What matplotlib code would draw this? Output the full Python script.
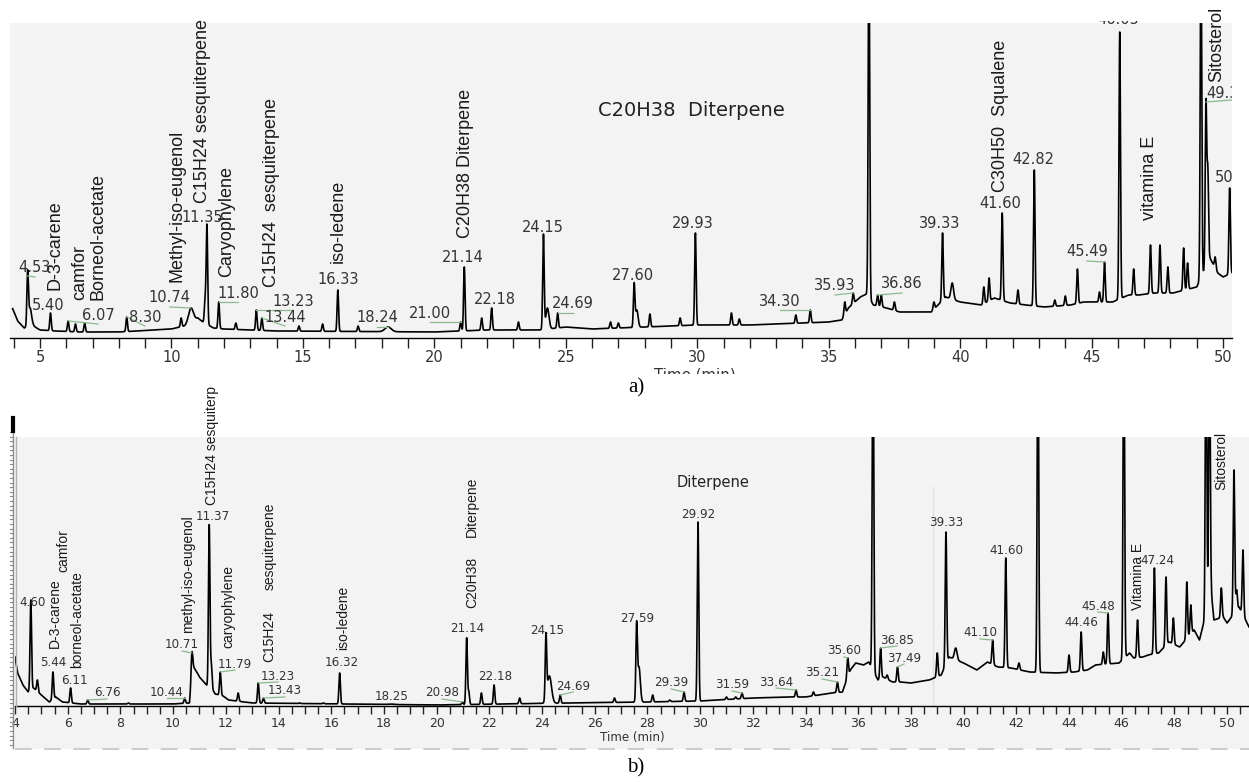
import matplotlib
matplotlib.use("Agg")
import matplotlib.pyplot as plt
import numpy as np
from matplotlib.patches import Rectangle
from matplotlib.lines import Line2D
from matplotlib.ticker import MultipleLocator

W, H = 1249, 782
GRAY = '#f3f3f3'
LEAD = '#8db88d'

# ---- a) chromatogram : retention time (min) / peak top (counts, arbitrary) ----
a_base_t = [3.86, 3.95, 4.15, 4.40, 4.75, 5.00, 5.60, 6.50, 8.00, 10.00,
            10.50, 11.00, 11.20, 11.60, 12.00, 14.00, 20.00, 22.00, 24.00, 25.00,
            26.00, 28.00, 30.00, 32.00, 34.00, 35.00, 35.50, 35.75, 36.20, 36.45,
            36.70, 37.20, 37.70, 38.90, 39.45, 40.00, 40.80, 41.30, 41.90, 42.50,
            43.20, 44.20, 44.70, 45.80, 46.40, 46.80, 47.40, 48.10, 49.00, 49.50,
            49.80, 50.00, 50.34]
a_base_y = [30, 30, 17, 10, 12, 8, 7, 6, 6, 9,
            12, 20, 16, 10, 9, 7, 6, 8, 8, 11,
            9, 11, 13, 13, 15, 16, 18, 30, 41, 44,
            33, 30, 26, 26, 41, 36, 33, 40, 35, 33,
            31, 33, 36, 36, 43, 43, 45, 45, 51, 80,
            65, 61, 65]
a_peak_t = [4.53, 4.62, 5.40, 6.07, 6.35, 6.70, 8.30, 10.37, 10.74, 11.28,
            11.35, 11.80, 12.45, 13.23, 13.44, 14.85, 15.75, 16.33, 17.10, 18.24,
            21.00, 21.14, 21.80, 22.18, 23.20, 24.15, 24.30, 24.69, 26.70, 27.00,
            27.60, 27.70, 28.20, 29.35, 29.93, 31.30, 31.60, 33.75, 34.30, 35.61,
            35.93, 36.53, 36.86, 37.00, 37.50, 39.00, 39.33, 39.70, 40.90, 41.10,
            41.60, 42.20, 42.82, 43.60, 44.00, 44.46, 45.30, 45.49, 46.07, 46.60,
            47.24, 47.60, 47.90, 48.50, 48.65, 49.16, 49.35, 49.42, 49.70, 50.25]
a_peak_top = [62, 30, 25, 17, 14, 15, 21, 20, 30, 38,
              113, 36, 15, 28, 20, 12, 14, 48, 12, 11,
              16, 71, 20, 30, 16, 103, 30, 25, 16, 15,
              53, 28, 24, 20, 105, 25, 19, 23, 28, 36,
              45, 400, 43, 43, 36, 36, 105, 55, 51, 60,
              125, 48, 168, 38, 42, 69, 46, 76, 306, 69,
              93, 93, 71, 90, 75, 400, 235, 166, 81, 150]
a_broad = {4.62: 0.06, 10.74: 0.09, 18.24: 0.12, 24.30: 0.06, 27.70: 0.05, 39.70: 0.05}

# ---- b) chromatogram ----
b_base_t = [4.00, 4.10, 4.30, 4.50, 4.70, 5.00, 5.30, 5.55, 5.80, 6.50,
            10.00, 10.62, 10.75, 10.90, 11.00, 11.20, 11.32, 11.50, 11.60, 11.90,
            12.10, 13.00, 20.00, 25.00, 28.00, 30.00, 32.00, 33.50, 34.00, 35.00,
            35.40, 35.70, 35.90, 36.20, 36.40, 36.75, 36.95, 37.30, 37.60, 38.00,
            38.70, 39.15, 39.45, 40.00, 40.50, 40.90, 41.30, 41.80, 42.50, 43.50,
            44.20, 44.70, 45.00, 45.90, 46.30, 46.45, 46.80, 47.00, 47.40, 47.80,
            48.20, 48.75, 48.95, 49.40, 49.50, 49.85, 50.00, 50.45, 50.70, 50.83]
b_base_y = [49, 33, 21, 14, 18, 11, 4, 9, 4, 2,
            2, 3, 40, 34, 29, 23, 19, 16, 12, 10,
            6, 3, 1, 3, 4, 5, 8, 9, 9, 13,
            14, 36, 43, 41, 44, 26, 29, 24, 24, 23,
            26, 31, 49, 43, 36, 44, 39, 38, 34, 33,
            34, 36, 41, 43, 53, 48, 49, 51, 53, 64,
            59, 76, 66, 113, 86, 89, 83, 99, 86, 79]
b_peak_t = [4.60, 4.85, 5.44, 6.11, 6.76, 8.30, 10.44, 10.71, 11.37,
            11.45, 11.79, 12.47, 13.23, 13.43, 14.80, 15.70, 16.32, 18.25, 20.98,
            21.14, 21.22, 21.70, 22.18, 23.15, 24.15, 24.28, 24.69, 26.75, 27.59,
            27.68, 28.20, 28.85, 29.39, 29.92, 31.00, 31.35, 31.59, 33.64, 34.30,
            35.21, 35.60, 36.56, 36.85, 37.10, 37.49, 39.00, 39.33, 39.70, 41.10,
            41.60, 42.10, 42.82, 44.00, 44.46, 45.30, 45.48, 46.08, 46.60, 47.24,
            47.68, 47.96, 48.47, 48.62, 49.20, 49.33, 49.78, 50.26, 50.36, 50.60]
b_peak_top = [106, 26, 34, 18, 6, 3, 8, 53, 181,
              41, 34, 13, 23, 8, 3, 3, 33, 2, 4,
              68, 14, 13, 21, 8, 66, 30, 11, 8, 78,
              39, 11, 6, 14, 184, 9, 9, 13, 16, 14,
              24, 48, 400, 58, 31, 39, 53, 174, 58, 66,
              148, 43, 400, 51, 74, 54, 93, 400, 86, 138,
              129, 88, 124, 101, 400, 400, 118, 236, 116, 156]
b_broad = {18.25: 0.1, 24.28: 0.08, 27.68: 0.05, 39.70: 0.05}

# ---- annotations (text, x in min, y in counts) ----
a_num = [("4.53", 4.81, 70), ("5.40", 5.30, 33), ("6.07", 7.21, 23), ("8.30", 8.99, 21),
         ("10.74", 9.94, 40), ("11.35", 11.16, 121), ("11.80", 12.53, 45), ("13.23", 14.62, 37),
         ("13.44", 14.32, 21), ("16.33", 16.33, 58), ("18.24", 17.82, 20), ("21.00", 19.83, 25),
         ("21.14", 21.09, 80), ("22.18", 22.31, 38), ("24.15", 24.13, 111), ("24.69", 25.27, 34),
         ("27.60", 27.56, 62), ("29.93", 29.84, 114), ("34.30", 33.15, 37), ("35.93", 35.24, 52),
         ("36.86", 37.79, 54), ("39.33", 39.23, 115), ("41.60", 41.52, 134), ("42.82", 42.77, 179),
         ("45.49", 44.82, 86)]
a_names = [("D-3-carene", 5.57, 48), ("camfor", 6.52, 38), ("Borneol-acetate", 7.21, 38),
           ("Methyl-iso-eugenol", 10.21, 56), ("C15H24 sesquiterpene", 11.20, 135),
           ("Caryophylene", 12.11, 61), ("C15H24  sesquiterpene", 13.82, 51),
           ("iso-ledene", 16.33, 75), ("C20H38 Diterpene", 21.17, 100),
           ("C30H50  Squalene", 41.52, 146), ("vitamina E", 47.22, 118), ("Sitosterol", 49.77, 256)]
a_lead = ["4.53", "6.07", "8.30", "10.74", "11.80", "13.23", "13.44", "18.24", "21.00",
          "24.69", "34.30", "35.93", "36.86", "45.49"]

b_num = [("4.60", 4.65, 103), ("5.44", 5.44, 44), ("6.11", 6.24, 26), ("6.76", 7.49, 13),
         ("10.44", 9.77, 14), ("10.71", 10.34, 61), ("11.37", 11.51, 189), ("11.79", 12.35, 42),
         ("13.23", 13.98, 30), ("13.43", 14.25, 15), ("16.32", 16.41, 43), ("18.25", 18.31, 9),
         ("20.98", 20.20, 13), ("21.14", 21.15, 77), ("22.18", 22.22, 29), ("24.15", 24.19, 75),
         ("24.69", 25.18, 20), ("27.59", 27.61, 87), ("29.39", 28.90, 23), ("29.92", 29.92, 192),
         ("31.59", 31.21, 21), ("33.64", 32.88, 24), ("35.21", 34.63, 33), ("35.60", 35.46, 55),
         ("36.85", 37.47, 66), ("37.49", 37.74, 48), ("39.33", 39.33, 183), ("41.10", 40.62, 73),
         ("41.60", 41.61, 155), ("44.46", 44.46, 83), ("45.48", 45.10, 100), ("47.24", 47.34, 146)]
b_names = [("D-3-carene", 5.52, 58), ("camfor", 5.82, 134), ("borneol-acetate", 6.35, 38),
           ("methyl-iso-eugenol", 10.57, 73), ("C15H24 sesquiterp", 11.48, 201),
           ("caryophylene", 12.08, 58), ("C15H24", 13.64, 44), ("sesquiterpene", 13.68, 116),
           ("iso-ledene", 16.45, 56), ("C20H38", 21.34, 98), ("Diterpene", 21.34, 169),
           ("Vitamina E", 46.62, 96), ("Sitosterol", 49.77, 216)]
b_lead = ["6.76", "10.44", "10.71", "11.79", "13.23", "13.43", "20.98", "24.69", "29.39",
          "31.59", "33.64", "35.21", "35.60", "36.85", "37.49", "41.10", "45.48"]


def trace(t, base_t, base_y, peak_t, peak_top, broad):
    y = np.interp(t, base_t, base_y)
    for pt, top in zip(peak_t, peak_top):
        w = broad.get(pt, 0.028)
        amp = top - np.interp(pt, base_t, base_y)
        y = y + amp * np.exp(-0.5 * ((t - pt) / w) ** 2)
    return y


def px_rect(x0, y0, x1, y1):
    # pixel box (origin top-left) -> figure fraction
    return [x0 / W, 1 - y1 / H, (x1 - x0) / W, (y1 - y0) / H]


def fx(x):
    return x / W


def fy(y):
    return 1 - y / H


def style_axes(ax, xlim, ylim, major, minor, lsize, tlen):
    ax.set_facecolor(GRAY)
    ax.set_xlim(*xlim)
    ax.set_ylim(*ylim)
    for s in ['top', 'right', 'left']:
        ax.spines[s].set_visible(False)
    ax.spines['bottom'].set_color('black')
    ax.spines['bottom'].set_linewidth(1.0)
    ax.set_yticks([])
    ax.xaxis.set_major_locator(MultipleLocator(major))
    ax.xaxis.set_minor_locator(MultipleLocator(minor))
    ax.tick_params(axis='x', which='both', direction='out', length=tlen, width=1,
                   color='#222222', labelsize=lsize, labelcolor='#333333', pad=2)


def annotate(ax, nums, names, lead, peak_t, peak_top, nsize, vsize, off):
    for s, t, y in nums:
        ax.text(t, y, s, ha='center', va='center', fontsize=nsize,
                family='DejaVu Sans', color='#333333', zorder=4, clip_on=True)
        if s in lead:
            i = int(np.argmin(np.abs(np.array(peak_t) - float(s))))
            ax.add_line(Line2D([peak_t[i], t], [min(peak_top[i], y), y - off],
                               color=LEAD, lw=0.9, zorder=3))
    for s, t, y in names:
        ax.text(t, y, s, rotation=90, ha='center', va='bottom', fontsize=vsize,
                family='Liberation Sans', color='#1a1a1a', clip_on=False, zorder=4)


fig = plt.figure(figsize=(W / 100, H / 100), dpi=100)

# ------------------ panel a ------------------
ax_a = fig.add_axes(px_rect(10, 23, 1232, 338))
style_axes(ax_a, (3.86, 50.34), (0, 315), 5, 1, 10.5, 7)
ta = np.arange(3.96, 50.34, 0.002)
ax_a.plot(ta, trace(ta, a_base_t, a_base_y, a_peak_t, a_peak_top, a_broad),
          color='black', lw=1.2, zorder=2)
annotate(ax_a, a_num, a_names, a_lead, a_peak_t, a_peak_top, 10.5, 13, 9)
ax_a.text(29.76, 228, "C20H38  Diterpene", ha='center', va='center', fontsize=14,
          family='DejaVu Sans', color='#222222')
# labels cut by the right edge / top of the picture
ax_a.text(49.35, 245, "49.33", ha='left', va='center', fontsize=10.5,
          family='DejaVu Sans', color='#333333', clip_on=True)
ax_a.add_line(Line2D([49.35, 50.34], [236, 238], color=LEAD, lw=0.9))
ax_a.text(49.69, 160, "50.25", ha='left', va='center', fontsize=10.5,
          family='DejaVu Sans', color='#333333', clip_on=True)
top_clip = Rectangle((0, fy(782)), 1, fy(20.5) - fy(782), transform=fig.transFigure)
t46 = ax_a.text(46.0, 318, "46.05", ha='center', va='center', fontsize=10.5,
                family='DejaVu Sans', color='#333333')
t46.set_clip_on(True)
t46.set_clip_box(None)
t46.set_clip_path(top_clip)

bot_clip = Rectangle((0, fy(373.5)), 1, 1, transform=fig.transFigure)
tl = fig.text(fx(695), fy(375), "Time (min)", ha='center', va='center', fontsize=10.8,
              family='DejaVu Sans', color='#333333')
tl.set_clip_path(bot_clip)
fig.text(fx(636), fy(388), "a)", ha='center', va='center', fontsize=15,
         family='Liberation Serif', color='black')

# ------------------ panel b ------------------
fig.patches.append(Rectangle((fx(15), fy(749)), fx(1249) - fx(15), fy(706) - fy(749),
                             transform=fig.transFigure, facecolor=GRAY, edgecolor='none',
                             zorder=-1))
fig.add_artist(Line2D([fx(15), fx(1249)], [fy(749), fy(749)], color='#cdcdcd', lw=1.5,
                      dashes=(8, 6)))
ax_b = fig.add_axes(px_rect(15, 437, 1249, 706))
style_axes(ax_b, (4, 50.83), (0, 269), 2, 0.5, 9, 6)
tb = np.arange(4.0, 50.83, 0.002)
ax_b.plot(tb, trace(tb, b_base_t, b_base_y, b_peak_t, b_peak_top, b_broad),
          color='black', lw=1.2, zorder=2)
ax_b.axvline(38.84, ymin=0, ymax=(706 - 487) / 269, color='#e0e0e0', lw=1, zorder=1)
annotate(ax_b, b_num, b_names, b_lead, b_peak_t, b_peak_top, 8.6, 10, 6)
ax_b.text(30.49, 223, "Diterpene", ha='center', va='center', fontsize=10.5,
          family='DejaVu Sans', color='#222222')
fig.text(fx(632), fy(737), "Time (min)", ha='center', va='center', fontsize=8.6,
         family='DejaVu Sans', color='#333333')
fig.text(fx(636), fy(768), "b)", ha='center', va='center', fontsize=15,
         family='Liberation Serif', color='black')

# ruler-like y axis on the left of panel b
fig.add_artist(Line2D([fx(13), fx(13)], [fy(418), fy(748)], color='#8a8a8a', lw=1))
fig.add_artist(Line2D([fx(16), fx(16)], [fy(437), fy(706)], color='#b0b0b0', lw=1))
for yy in np.arange(432, 748, 4.6):
    fig.add_artist(Line2D([fx(10), fx(13)], [fy(yy), fy(yy)], color='#8a8a8a', lw=0.8))
fig.add_artist(Line2D([fx(12.5), fx(12.5)], [fy(418), fy(431)], color='black', lw=3))

fig.savefig("out.png", dpi=100, facecolor='white')
